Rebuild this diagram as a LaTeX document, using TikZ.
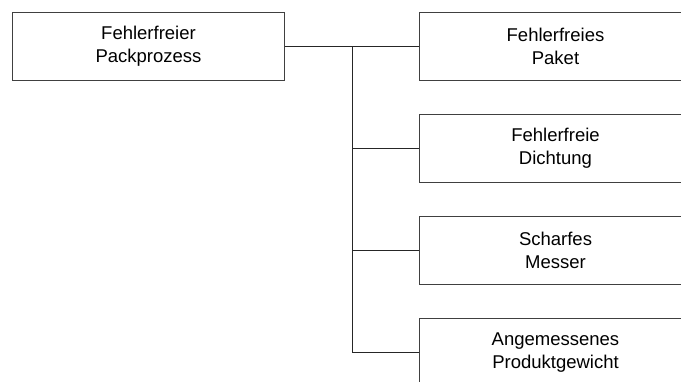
\documentclass[tikz,border=0pt]{standalone}
\usepackage{fontspec}
\setmainfont{Liberation Sans}
\begin{document}
\begin{tikzpicture}[x=1pt,y=-1pt,
  box/.style={draw=black!75, line width=1pt, minimum width=272pt, minimum height=68pt,
    align=center, font=\fontsize{18.5}{22.6}\selectfont, inner sep=0pt, anchor=north west},
  link/.style={draw=black!85, line width=1pt}]
\useasboundingbox (0,0) rectangle (681,382);
\clip (0,0) rectangle (681,382);
% goal and sub-goals
\node[box] (root) at (12,12)  {Fehlerfreier\\Packprozess};
\node[box] (c1)   at (419,12) {Fehlerfreies\\Paket};
\node[box] (c2)   at (419,114) {Fehlerfreie\\Dichtung};
\node[box] (c3)   at (419,216) {Scharfes\\Messer};
\node[box] (c4)   at (419,318) {Angemessenes\\Produktgewicht};
% tree connectors via a common vertical trunk
\coordinate (trunk) at (352,0);
\draw[link] (root.east) -- (c1.west);
\draw[link] (root.east -| trunk) |- (c2.west);
\draw[link] (root.east -| trunk) |- (c3.west);
\draw[link] (root.east -| trunk) |- (c4.west);
\end{tikzpicture}
\end{document}
